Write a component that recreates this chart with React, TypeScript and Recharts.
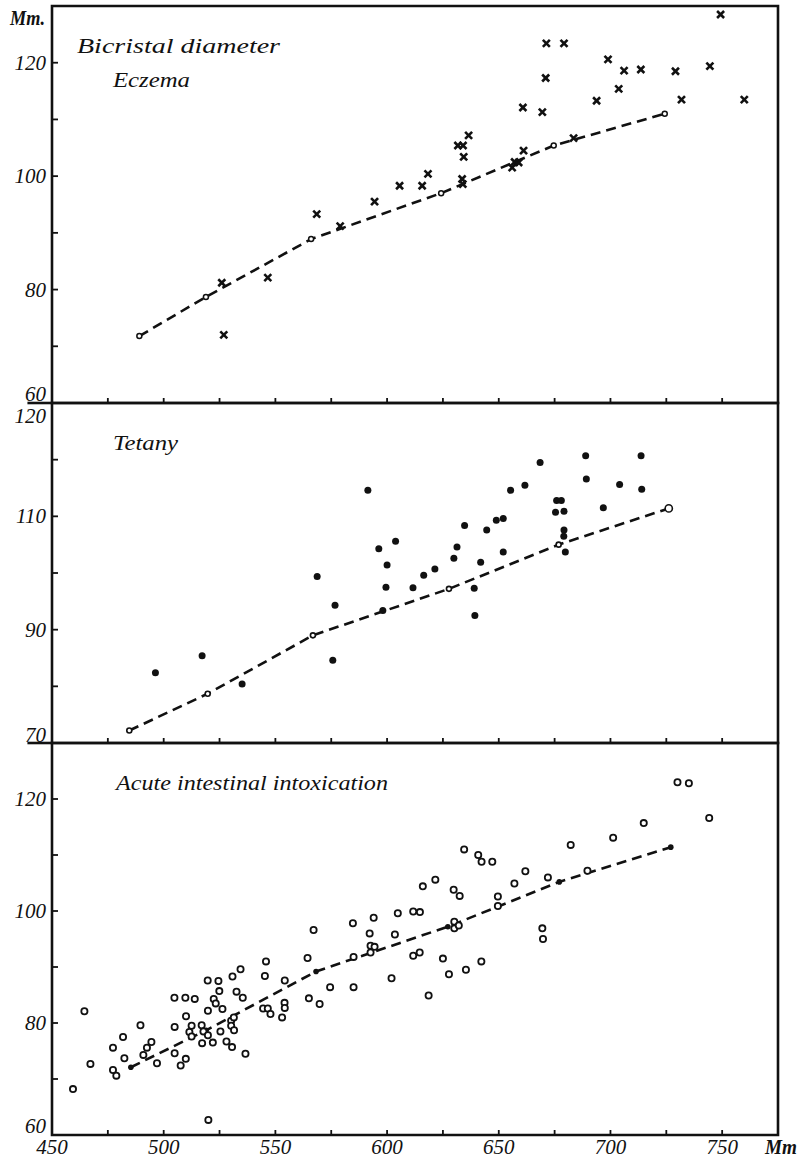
import React from 'react'
import {
  ComposedChart,
  Line,
  Scatter,
  XAxis,
  YAxis,
  ReferenceArea,
  ReferenceLine
} from 'recharts'

const INK = '#111'
const FONT = "'Liberation Serif', 'DejaVu Serif', serif"

// x axis (mm), shared by the three panels
const xTicks = [450, 475, 500, 525, 550, 575, 600, 625, 650, 675, 700, 725, 750]
const xTickLabels = ['450', '', '500', '', '550', '', '600', '', '650', '', '700', '', '750']

// Eczema (crosses)
const eczemaPoints: [number, number][] = [
  [526.0, 81.2], [526.9, 72.0], [546.6, 82.1], [568.5, 93.3], [579.0, 91.2],
  [594.4, 95.5], [605.6, 98.3], [615.7, 98.3], [618.3, 100.4], [631.7, 105.4],
  [634.0, 105.4], [634.3, 103.4], [636.5, 107.2], [633.6, 99.5], [633.9, 98.6],
  [656.0, 101.5], [657.1, 102.5], [658.9, 102.4], [661.1, 104.5], [660.8, 112.1],
  [669.5, 111.3], [671.3, 123.4], [679.2, 123.4], [671.0, 117.3], [683.5, 106.7],
  [693.8, 113.3], [698.9, 120.6], [703.7, 115.4], [706.1, 118.6], [713.6, 118.8],
  [729.1, 118.5], [731.8, 113.5], [744.5, 119.4], [749.3, 128.5], [759.9, 113.5]
]
const eczemaMean: [number, number][] = [
  [489.1, 71.8], [518.9, 78.7], [566.0, 88.9], [624.2, 97.0], [674.6, 105.4], [724.3, 111.0]
]
const eczemaYTicks = [60, 70, 80, 90, 100, 110, 120, 130]
const eczemaYLabels = ['60', '', '80', '', '100', '', '120', '']

// Tetany (filled dots)
const tetanyPoints: [number, number][] = [
  [496.3, 82.4], [517.2, 85.4], [535.1, 80.4], [575.7, 84.6], [568.7, 99.4],
  [576.7, 94.3], [591.4, 114.6], [596.3, 104.3], [600.0, 101.4], [599.5, 97.5],
  [598.1, 93.4], [603.8, 105.6], [611.6, 97.4], [616.4, 99.6], [621.4, 100.7],
  [629.9, 102.6], [631.3, 104.6], [634.7, 108.4], [639.0, 97.3], [639.3, 92.5],
  [641.9, 101.9], [644.6, 107.6], [648.9, 109.3], [652.0, 109.6], [652.0, 103.7],
  [655.3, 114.6], [661.7, 115.5], [668.5, 119.5], [675.9, 112.8], [678.0, 112.8],
  [675.4, 110.7], [679.2, 110.9], [679.2, 107.6], [679.1, 106.5], [679.8, 103.7],
  [688.9, 120.7], [689.2, 116.6], [696.8, 111.5], [704.1, 115.6], [713.7, 120.7],
  [714.0, 114.8]
]
const tetanyMean: [number, number][] = [
  [484.6, 72.2], [519.7, 78.7], [566.8, 89.0], [627.7, 97.2], [676.8, 105.0], [726.1, 111.4]
]
const tetanyYTicks = [70, 80, 90, 100, 110, 120, 130]
const tetanyYLabels = ['70', '', '90', '', '110', '', '120']

// Acute intestinal intoxication (open circles)
const intoxPoints: [number, number][] = [
  [459.4, 68.2], [464.5, 82.1], [467.2, 72.7], [477.3, 75.6], [477.3, 71.6],
  [478.8, 70.6], [481.8, 77.5], [482.4, 73.7], [489.6, 79.6], [490.9, 74.3],
  [492.5, 75.6], [494.5, 76.6], [497.0, 72.8], [504.8, 84.5], [504.9, 79.3],
  [504.9, 74.6], [509.7, 84.5], [513.9, 84.3], [510.0, 81.2], [512.5, 79.5],
  [511.5, 78.4], [512.5, 77.6], [507.6, 72.4], [509.9, 73.6], [519.7, 87.6],
  [524.5, 87.5], [524.9, 85.7], [522.4, 84.3], [523.3, 83.5], [519.8, 82.2],
  [526.3, 82.5], [517.0, 79.6], [517.8, 78.5], [519.8, 77.8], [517.2, 76.4],
  [522.0, 76.5], [525.4, 78.5], [520.0, 62.7], [528.1, 76.7], [530.6, 75.7],
  [536.6, 74.5], [530.8, 88.3], [534.4, 89.6], [532.6, 85.6], [535.4, 84.5],
  [530.2, 80.4], [531.4, 81.0], [530.2, 79.5], [531.5, 78.7], [545.8, 91.0],
  [545.3, 88.4], [544.5, 82.6], [546.6, 82.6], [547.8, 81.6], [553.0, 81.0],
  [554.2, 87.6], [554.1, 83.6], [554.2, 82.7], [567.1, 96.6], [564.4, 91.6],
  [565.0, 84.4], [569.8, 83.4], [574.5, 86.4], [584.7, 97.8], [585.0, 91.8],
  [585.0, 86.4], [594.0, 98.8], [592.2, 96.0], [592.6, 93.8], [594.4, 93.6],
  [592.6, 92.6], [602.0, 88.0], [603.5, 95.8], [604.8, 99.6], [611.7, 99.9],
  [614.7, 99.8], [611.7, 92.0], [614.6, 92.6], [616.0, 104.4], [621.6, 105.6],
  [618.6, 84.9], [625.0, 91.5], [627.7, 88.7], [629.8, 103.8], [632.5, 102.7],
  [630.1, 98.1], [630.1, 96.9], [632.1, 97.4], [635.3, 89.5], [634.5, 111.0],
  [640.8, 110.0], [642.3, 108.8], [647.1, 108.8], [642.2, 91.0], [649.6, 102.6],
  [649.6, 100.9], [657.0, 104.9], [661.9, 107.1], [672.0, 106.0], [669.5, 96.9],
  [669.8, 95.0], [682.2, 111.8], [689.7, 107.2], [701.2, 113.1], [714.9, 115.7],
  [730.0, 123.0], [735.1, 122.8], [744.2, 116.6]
]
const intoxMean: [number, number][] = [
  [485.3, 72.1], [519.0, 78.7], [568.2, 89.2], [627.2, 97.2], [677.1, 105.2], [727.0, 111.4]
]
const intoxYTicks = [60, 70, 80, 90, 100, 110, 120, 130]
const intoxYLabels = ['60', '', '80', '', '100', '', '120', '']

const toRows = (pts: [number, number][]) => pts.map(([x, y]) => ({ x, y }))

const italic: React.CSSProperties = { fontFamily: FONT, fontStyle: 'italic', fill: INK }

const crossShape = (p: any) => {
  const { cx, cy } = p
  const s = 3.5
  return (
    <g stroke={INK} strokeWidth={2.6}>
      <line x1={cx - s} y1={cy - s} x2={cx + s} y2={cy + s} />
      <line x1={cx - s} y1={cy + s} x2={cx + s} y2={cy - s} />
    </g>
  )
}
const dotShape = (p: any) => <circle cx={p.cx} cy={p.cy} r={3.5} fill={INK} />
const ringShape = (p: any) => (
  <circle cx={p.cx} cy={p.cy} r={3.1} fill='#fff' stroke={INK} strokeWidth={1.8} />
)

const smallOpenDot = (p: any) => (
  <circle key={p.index} cx={p.cx} cy={p.cy} r={2.5} fill='#fff' stroke={INK} strokeWidth={1.5} />
)
// tetany: the last mean point is drawn as a larger ring
const openDotBigEnd = (p: any) => (
  <circle
    key={p.index}
    cx={p.cx}
    cy={p.cy}
    r={p.index === tetanyMean.length - 1 ? 3.6 : 2.5}
    fill='#fff'
    stroke={INK}
    strokeWidth={1.6}
  />
)
const filledMeanDot = (p: any) => (
  <circle key={p.index} cx={p.cx} cy={p.cy} r={2.8} fill={INK} />
)

interface PanelProps {
  top: number
  height: number
  marginTop: number
  xAxisHeight: number
  yDomain: [number, number]
  yTicks: number[]
  yLabels: string[]
  lowNudge: number
  highNudge: number
  points: [number, number][]
  mean: [number, number][]
  shape: (p: any) => React.ReactElement
  meanDot: (p: any) => React.ReactElement
  showXLabels: boolean
  extendTop: boolean
  children?: React.ReactNode
}

const Panel: React.FC<PanelProps> = ({
  top, height, marginTop, xAxisHeight, yDomain, yTicks, yLabels, lowNudge, highNudge,
  points, mean, shape, meanDot, showXLabels, extendTop, children
}) => {
  const [lo, hi] = yDomain

  const yTick = (p: any) => {
    const { x, y, payload } = p
    const v = payload.value
    const label = yLabels[yTicks.indexOf(v)]
    const dy = v === lo ? lowNudge : v === hi ? highNudge : 0
    return (
      <g>
        {v > lo && v < hi && (
          <line x1={x} y1={y} x2={x + 6} y2={y} stroke={INK} strokeWidth={1.8} />
        )}
        {label && (
          <text x={x - 6} y={y + 7 + dy} textAnchor='end' style={{ ...italic, fontSize: 21 }}>
            {label}
          </text>
        )}
      </g>
    )
  }

  const xTick = (p: any) => {
    const { x, y, payload } = p
    const v = payload.value
    const label = showXLabels ? xTickLabels[xTicks.indexOf(v)] : ''
    return (
      <g>
        {v > 450 && (
          <line x1={x} y1={y} x2={x} y2={y - 5} stroke={INK} strokeWidth={1.8} />
        )}
        {label && (
          <text x={x} y={y + 19} textAnchor='middle' style={{ ...italic, fontSize: 21 }}>
            {label}
          </text>
        )}
      </g>
    )
  }

  return (
    <div style={{ position: 'absolute', left: 0, top }}>
      <ComposedChart
        width={807}
        height={height}
        margin={{ top: marginTop, right: 29, bottom: 0, left: 0 }}
      >
        <XAxis
          type='number'
          dataKey='x'
          domain={[450, 775]}
          ticks={xTicks}
          interval={0}
          allowDataOverflow
          axisLine={false}
          tickLine={false}
          tickSize={0}
          tickMargin={0}
          height={xAxisHeight}
          tick={xTick}
        />
        <YAxis
          type='number'
          dataKey='y'
          domain={yDomain}
          ticks={yTicks}
          interval={0}
          allowDataOverflow
          axisLine={false}
          tickLine={false}
          tickSize={0}
          tickMargin={0}
          width={52}
          tick={yTick}
        />
        <ReferenceArea
          x1={450}
          x2={775}
          y1={lo}
          y2={hi}
          fill='none'
          fillOpacity={0}
          stroke={INK}
          strokeWidth={2.6}
        />
        {extendTop && (
          <ReferenceLine
            segment={[{ x: 439, y: hi }, { x: 450, y: hi }]}
            stroke={INK}
            strokeWidth={2.6}
            ifOverflow='visible'
          />
        )}
        <Line
          data={toRows(mean)}
          dataKey='y'
          type='linear'
          stroke={INK}
          strokeWidth={2.6}
          strokeDasharray='10 6'
          dot={meanDot}
          activeDot={false}
          isAnimationActive={false}
        />
        <Scatter data={toRows(points)} dataKey='y' shape={shape} isAnimationActive={false} />
        {children}
      </ComposedChart>
    </div>
  )
}

const titleStyle: React.CSSProperties = { ...italic, fontSize: 22 }

export default function App() {
  return (
    <div style={{ position: 'absolute', left: 0, top: 0, width: 807, height: 1163, background: '#fff' }}>
      <Panel
        top={0}
        height={410}
        marginTop={6}
        xAxisHeight={7}
        yDomain={[60, 130]}
        yTicks={eczemaYTicks}
        yLabels={eczemaYLabels}
        lowNudge={-9}
        highNudge={0}
        points={eczemaPoints}
        mean={eczemaMean}
        shape={crossShape}
        meanDot={smallOpenDot}
        showXLabels={false}
        extendTop={false}
      >
        <text x={10} y={25} textLength={35} lengthAdjust='spacingAndGlyphs' style={{ ...italic, fontSize: 21, fontWeight: 'bold' }}>
          Mm.
        </text>
        <text x={77} y={53} textLength={203} lengthAdjust='spacingAndGlyphs' style={titleStyle}>
          Bicristal diameter
        </text>
        <text x={113} y={87} textLength={77} lengthAdjust='spacingAndGlyphs' style={titleStyle}>
          Eczema
        </text>
      </Panel>
      <Panel
        top={396}
        height={354}
        marginTop={7}
        xAxisHeight={7}
        yDomain={[70, 130]}
        yTicks={tetanyYTicks}
        yLabels={tetanyYLabels}
        lowNudge={-8}
        highNudge={13}
        points={tetanyPoints}
        mean={tetanyMean}
        shape={dotShape}
        meanDot={openDotBigEnd}
        showXLabels={false}
        extendTop
      >
        <text x={113} y={54} textLength={65} lengthAdjust='spacingAndGlyphs' style={titleStyle}>
          Tetany
        </text>
      </Panel>
      <Panel
        top={736}
        height={424}
        marginTop={7}
        xAxisHeight={25}
        yDomain={[60, 130]}
        yTicks={intoxYTicks}
        yLabels={intoxYLabels}
        lowNudge={-9}
        highNudge={0}
        points={intoxPoints}
        mean={intoxMean}
        shape={ringShape}
        meanDot={filledMeanDot}
        showXLabels
        extendTop
      >
        <text x={116} y={54} textLength={272} lengthAdjust='spacingAndGlyphs' style={titleStyle}>
          Acute intestinal intoxication
        </text>
        <text x={765} y={418} textLength={32} lengthAdjust='spacingAndGlyphs' style={{ ...italic, fontSize: 21, fontWeight: 'bold' }}>
          Mm
        </text>
      </Panel>
    </div>
  )
}
